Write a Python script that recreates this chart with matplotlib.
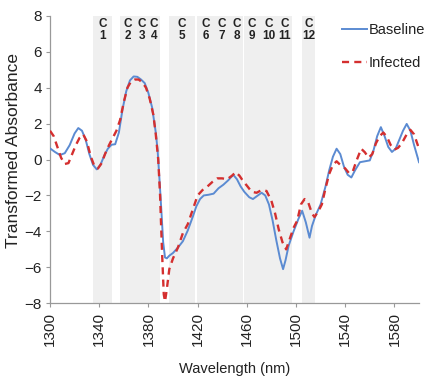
import matplotlib
matplotlib.use("Agg")
import matplotlib.pyplot as plt
from matplotlib.lines import Line2D

plt.rcParams['font.family'] = ['Liberation Sans', 'DejaVu Sans']

# ---------------- data ----------------
baseline_wl = [1300, 1304, 1308, 1312, 1316, 1320, 1323, 1326, 1329, 1332, 1335, 1338,
               1341, 1344, 1347, 1350, 1353, 1356, 1359, 1362, 1365, 1368, 1371, 1374,
               1377, 1380, 1383, 1386, 1387.5, 1389, 1390.5, 1392, 1393.5, 1395, 1397,
               1400, 1404, 1408, 1412, 1416, 1419, 1422, 1425, 1429, 1433, 1437, 1441,
               1445, 1449, 1452, 1455, 1458, 1462, 1465, 1468, 1472, 1475, 1478, 1481,
               1484, 1487, 1489.5, 1491.5, 1494, 1498, 1502, 1505, 1508, 1511, 1513,
               1516, 1520, 1524, 1527, 1530, 1533, 1536, 1539, 1542, 1545, 1548, 1552,
               1556, 1560, 1563, 1566, 1569, 1572, 1575, 1578, 1581, 1584, 1587, 1590,
               1593, 1596, 1600]
baseline_val = [0.62, 0.42, 0.25, 0.35, 0.8, 1.45, 1.75, 1.6, 1.1, 0.3, -0.3, -0.55,
                -0.3, 0.2, 0.6, 0.82, 0.85, 1.5, 2.8, 3.8, 4.4, 4.62, 4.6, 4.45,
                4.25, 3.7, 2.9, 1.5, 0.5, -1.1, -2.8, -4.6, -5.45, -5.5, -5.35,
                -5.2, -4.9, -4.55, -3.95, -3.2, -2.6, -2.2, -2.0, -1.96, -1.9, -1.6, -1.4,
                -1.15, -0.85, -1.1, -1.5, -1.8, -2.1, -2.2, -2.05, -1.85, -2.0, -2.5, -3.4,
                -4.5, -5.5, -6.1, -5.6, -4.8, -4.0, -3.3, -2.85, -3.5, -4.35, -3.7,
                -3.1, -2.5, -1.5, -0.6, 0.15, 0.6, 0.3, -0.4, -0.85, -1.0, -0.6, -0.15,
                -0.1, -0.05, 0.5, 1.3, 1.8, 1.3, 0.7, 0.42, 0.6, 1.1, 1.6, 1.98,
                1.6, 0.8, -0.15]

infected_wl = [1300, 1303, 1306, 1309, 1312, 1315, 1318, 1321, 1324, 1327, 1330, 1333,
               1336, 1339, 1342, 1345, 1348, 1351, 1354, 1357, 1360, 1363, 1366, 1369,
               1372, 1375, 1378, 1381, 1384, 1386, 1388, 1389.5, 1391, 1392.5, 1393.5,
               1395, 1397, 1400, 1404, 1408, 1412, 1416, 1420, 1424, 1428, 1432, 1436,
               1440, 1444, 1448, 1451, 1454, 1457, 1460, 1464, 1468, 1472, 1476, 1480,
               1483, 1486, 1489, 1492, 1495, 1498, 1501, 1504, 1507, 1510, 1513, 1515,
               1518, 1521, 1524, 1527, 1530, 1533, 1536, 1540, 1543, 1546, 1549, 1553,
               1556, 1559, 1562, 1565, 1568, 1571, 1574, 1577, 1580, 1583, 1586, 1590,
               1593, 1596, 1598, 1600]
infected_val = [1.6, 1.3, 0.7, 0.1, -0.25, -0.2, 0.3, 0.8, 1.2, 1.4, 1.0, 0.2,
                -0.35, -0.5, -0.2, 0.35, 0.8, 1.2, 1.6, 2.2, 3.2, 4.0, 4.35, 4.45,
                4.45, 4.3, 4.0, 3.4, 2.5, 1.4, 0.0, -2.0, -5.0, -7.5, -7.9,
                -7.2, -6.1, -5.5, -4.9, -4.1, -3.6, -2.8, -2.0, -1.7, -1.5, -1.25, -1.05,
                -1.05, -1.1, -0.9, -0.7, -0.9, -1.2, -1.45, -1.8, -1.85, -1.7, -1.75, -2.3,
                -3.0, -3.9, -4.6, -5.0, -4.4, -3.8, -3.4, -2.5, -2.2, -2.4, -3.0, -3.2,
                -2.9, -2.5, -1.6, -0.8, -0.3, -0.1, -0.3, -0.5, -0.75, -0.7, -0.1, 0.6,
                0.4, 0.1, 0.3, 0.9, 1.3, 1.5, 1.25, 0.8, 0.55, 0.65, 0.9, 1.4,
                1.65, 1.4, 1.0, 0.6]

band_labels = ["1", "2", "3", "4", "5", "6", "7", "8", "9", "10", "11", "12"]
band_start = [1334.7, 1357.2, 1369.3, 1380.0, 1397.0, 1419.3, 1434.2, 1445.9, 1457.5,
              1471.1, 1484.7, 1504.7]
band_end = [1350.4, 1368.9, 1379.7, 1389.5, 1417.9, 1433.9, 1445.6, 1457.2, 1470.8,
            1484.4, 1496.6, 1515.5]

x_ticks = [1300, 1340, 1380, 1420, 1460, 1500, 1540, 1580]
y_ticks = [-8, -6, -4, -2, 0, 2, 4, 6, 8]

# ---------------- figure ----------------
W, H = 425, 382
fig = plt.figure(figsize=(W / 100, H / 100), dpi=100)
ax = fig.add_axes([50 / W, 1 - 303.3 / H, 369 / W, (303.3 - 15.7) / H])

for s, e in zip(band_start, band_end):
    ax.axvspan(s, e, color='#efefef', lw=0, zorder=0)

for s, e, lab in zip(band_start, band_end, band_labels):
    ax.text((s + e) / 2, 7.55, "C", ha='center', va='center', fontsize=8.5,
            fontweight='bold', color='#222222')
    ax.text((s + e) / 2, 6.85, lab, ha='center', va='center', fontsize=8.5,
            fontweight='bold', color='#222222')

blue = '#5b8bd2'
red = '#d42f2f'
ax.plot(baseline_wl, baseline_val, color=blue, lw=1.4, zorder=3)
ax.plot(infected_wl, infected_val, color=red, lw=1.7, ls=(0, (3, 2.2)), zorder=4)

ax.set_xlim(1300, 1600)
ax.set_ylim(-8, 8)
ax.set_xticks(x_ticks)
ax.set_yticks(y_ticks)
ax.set_xticklabels([str(t) for t in x_ticks], rotation=90)
ax.tick_params(axis='both', labelsize=11, colors='#999999', labelcolor='#222222',
               length=3, width=0.8, direction='out', pad=3)
for sp in ['top', 'right']:
    ax.spines[sp].set_visible(False)
for sp in ['left', 'bottom']:
    ax.spines[sp].set_color('#999999')
    ax.spines[sp].set_linewidth(0.9)

fig.text(14 / W, 1 - 150 / H, "Transformed Absorbance", rotation=90,
         ha='center', va='center', fontsize=12.5, color='#222222')
fig.text(235 / W, 1 - 369 / H, "Wavelength (nm)", ha='center', va='center',
         fontsize=10.5, color='#222222')

handles = [Line2D([], [], color=blue, lw=1.4),
           Line2D([], [], color=red, lw=1.7, ls=(0, (3, 2.2)))]
leg = fig.legend(handles, ["Baseline", "Infected"], loc='upper left',
                 bbox_to_anchor=(342 / W, 1 - 23 / H), frameon=False,
                 fontsize=10.5, handlelength=1.7, handletextpad=0.1,
                 labelspacing=1.3, borderaxespad=0, borderpad=0)
for t in leg.get_texts():
    t.set_color('#222222')

fig.savefig("out.png", dpi=100)
